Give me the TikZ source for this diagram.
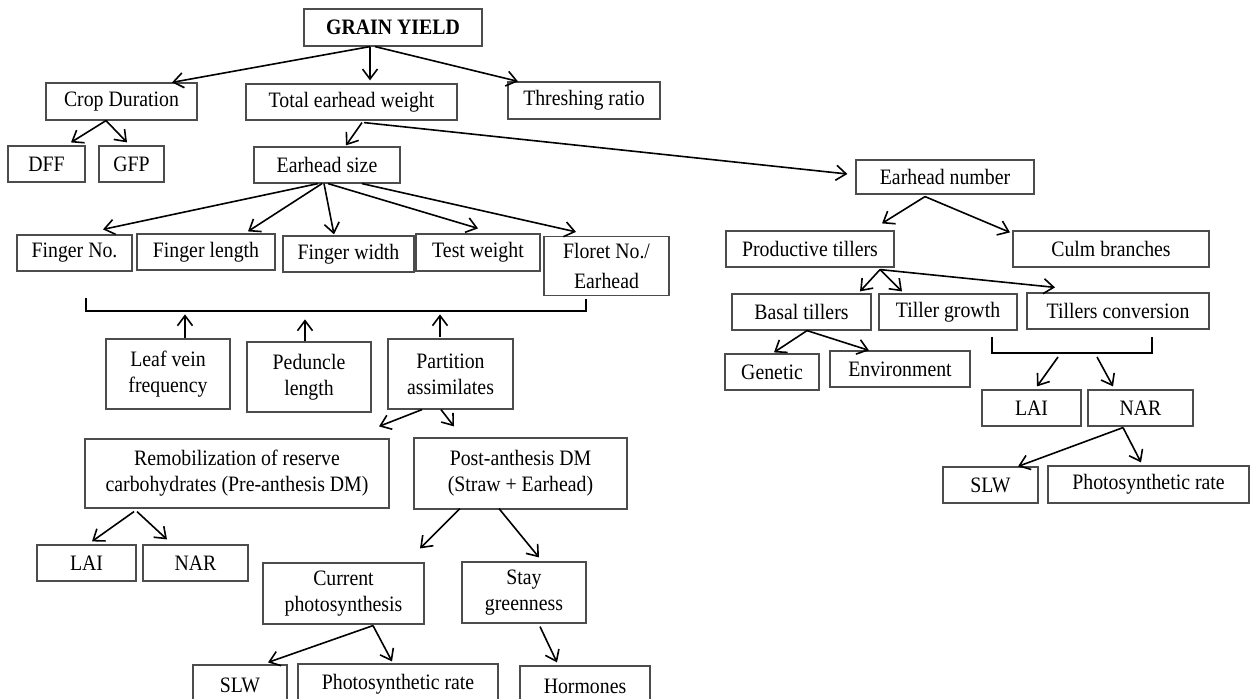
\documentclass[tikz,border=0pt]{standalone}
\usepackage{fontspec}
\setmainfont{Liberation Serif}[FakeStretch=0.9]
\usepackage{tikz}
\usetikzlibrary{arrows.meta,calc}
\tikzset{sz/.style 2 args={minimum width=#1*0.5pt,minimum height=#2*0.5pt}}

\begin{document}
\begin{tikzpicture}[->,>={Straight Barb[length=5pt,width=7.5pt]},x=0.5pt,y=-0.5pt,
                    line width=0.8pt]
  \tikzstyle{blk}=[rectangle,draw=black!70,line width=0.6pt,inner sep=0pt,
                   align=center,font=\fontsize{11}{13}\selectfont]

  \useasboundingbox (0,0) rectangle (1251,699);

  % left tree
  \node[blk,sz={178}{37}] (gy)   at (393,27.5)  {\textbf{GRAIN YIELD}};
  \node[blk,sz={151}{37}] (cd)   at (121.5,101.5) {Crop Duration};
  \node[blk,sz={211}{36}] (tew)  at (351.5,102) {Total earhead weight};
  \node[blk,sz={152}{37}] (thr)  at (584,100.5) {Threshing ratio};
  \node[blk,sz={77}{36}]  (dff)  at (46.5,164)  {DFF};
  \node[blk,sz={65}{36}]  (gfp)  at (131.5,164) {GFP};
  \node[blk,sz={146}{36}] (es)   at (327,165)   {Earhead size};
  \node[blk,sz={115}{36}] (fno)  at (74.5,253)  {Finger No.};
  \node[blk,sz={138}{36}] (fl)   at (206,252)   {Finger length};
  \node[blk,sz={131}{36}] (fw)   at (348.5,254) {Finger width};
  \node[blk,sz={124}{37}] (tw)   at (478,252.5) {Test weight};
  \node[blk,sz={125}{59}] (fe)   at (606.5,266) {Floret No./\\[2pt]Earhead};
  \node[blk,sz={124}{70}] (lv)   at (168,374)   {Leaf vein\\frequency};
  \node[blk,sz={124}{70}] (pl)   at (309,377)   {Peduncle\\length};
  \node[blk,sz={125}{70}] (pa)   at (450.5,374) {Partition\\assimilates};
  \node[blk,sz={304}{69}] (rm)   at (237,473.5) {Remobilization of reserve\\carbohydrates (Pre-anthesis DM)};
  \node[blk,sz={213}{71}] (pad)  at (520.5,473.5) {Post-anthesis DM\\(Straw + Earhead)};
  \node[blk,sz={99}{36}]  (lai1) at (86.5,563)  {LAI};
  \node[blk,sz={105}{36}] (nar1) at (195.5,563) {NAR};
  \node[blk,sz={161}{61}] (cp)   at (343.5,593.5) {Current\\photosynthesis};
  \node[blk,sz={124}{61}] (sg)   at (524,592.5) {Stay\\greenness};
  \node[blk,sz={94}{40}]  (slw1) at (240,685)   {SLW};
  \node[blk,sz={200}{40}] (psr1) at (398,684)   {Photosynthetic rate};
  \node[blk,sz={130}{40}] (hor)  at (585,686)   {Hormones};

  % right tree
  \node[blk,sz={178}{34}] (en)   at (945,177)   {Earhead number};
  \node[blk,sz={168}{36}] (pt)   at (810,249)   {Productive tillers};
  \node[blk,sz={196}{36}] (cb)   at (1111,249)  {Culm branches};
  \node[blk,sz={139}{36}] (bt)   at (801.5,312) {Basal tillers};
  \node[blk,sz={138}{36}] (tg)   at (948,312)   {Tiller growth};
  \node[blk,sz={182}{36}] (tc)   at (1118,311)  {Tillers conversion};
  \node[blk,sz={94}{36}]  (gen)  at (772,372)   {Genetic};
  \node[blk,sz={140}{36}] (env)  at (900,369)   {Environment};
  \node[blk,sz={99}{36}]  (lai2) at (1031.5,408) {LAI};
  \node[blk,sz={105}{36}] (nar2) at (1140.5,408) {NAR};
  \node[blk,sz={95}{36}]  (slw2) at (990.5,485) {SLW};
  \node[blk,sz={201}{37}] (psr2) at (1148.5,484.5) {Photosynthetic rate};

  % brackets
  \coordinate (b1a) at (86,298);
  \coordinate (b1b) at (86,311);
  \coordinate (b1c) at (586,311);
  \coordinate (b1d) at (586,299);
  \coordinate (b2a) at (992,337);
  \coordinate (b2b) at (992,353);
  \coordinate (b2c) at (1152,353);
  \coordinate (b2d) at (1152,337);
  \coordinate (b2l) at (1058,357);
  \coordinate (b2r) at (1097,357);
  \draw[-] (b1a) -- (b1b) -- (b1c) -- (b1d);
  \draw[-] (b2a) -- (b2b) -- (b2c) -- (b2d);

  \path ($(gy.south)+(-23,0)$) edge ($(cd.north)+(50.5,0)$)
        ($(gy.south)+(-23,0)$) edge ($(tew.north)+(18.5,-3)$)
        ($(gy.south)+(-18,0)$) edge ($(thr.north)+(-66,0)$)
        ($(cd.south)+(-15.5,0)$) edge ($(dff.north)+(24.5,-3)$)
        ($(cd.south)+(-15.5,0)$) edge ($(gfp.north)+(-4.5,-3)$)
        ($(tew.south)+(10.5,2)$) edge ($(es.north)+(19,-1)$)
        ($(tew.south)+(12.5,2)$) edge ($(en.west)+(-8,-3)$)
        ($(es.south)+(-9,0)$) edge ($(fno.north)+(28.5,-5)$)
        ($(es.south)+(-5,0)$) edge ($(fl.north)+(42,-2)$)
        ($(es.south)+(-3,0)$) edge ($(fw.north)+(-14.5,-1)$)
        ($(es.south)+(1,0)$) edge ($(tw.north)+(0,-5)$)
        ($(es.south)+(35,0)$) edge ($(fe.north)+(-30.5,-4)$)
        ($(lv.north)+(17,0)$) edge ($(lv.north)+(17,-24)$)
        ($(pl.north)+(-4,0)$) edge ($(pl.north)+(-4,-22)$)
        ($(pa.north)+(-10.5,-1)$) edge ($(pa.north)+(-10.5,-24)$)
        ($(pa.south)+(-28.5,0)$) edge ($(rm.north)+(142,-12)$)
        ($(pa.south)+(-9.5,0)$) edge ($(pad.north)+(-66.5,-11)$)
        ($(rm.south)+(-103,3)$) edge ($(lai1.north)+(5.5,-3)$)
        ($(rm.south)+(-100,3)$) edge ($(nar1.north)+(-28.5,-5)$)
        ($(pad.south)+(-60.5,-1)$) edge ($(cp.north)+(76.5,-14)$)
        ($(pad.south)+(-21.5,-1)$) edge ($(sg.north)+(15,-4)$)
        ($(cp.south)+(29.5,1)$) edge ($(slw1.north)+(28,-2)$)
        ($(cp.south)+(29.5,1)$) edge ($(psr1.north)+(-6,-2)$)
        ($(sg.south)+(16,3)$) edge ($(hor.north)+(-28,-3)$);

  \path ($(en.south)+(-20,2)$) edge ($(pt.north)+(72,-7)$)
        ($(en.south)+(-20,2)$) edge ($(cb.north)+(-101,2)$)
        ($(pt.south)+(70,2)$) edge ($(bt.north)+(58.5,-2)$)
        ($(pt.south)+(70,2)$) edge ($(tg.north)+(-46,-2)$)
        ($(pt.south)+(70,2)$) edge ($(tc.north)+(-63,-5)$)
        ($(bt.south)+(5.5,0)$) edge ($(gen.north)+(2,-1)$)
        ($(bt.south)+(5.5,0)$) edge ($(env.north)+(-31,0)$)
        (b2l) edge ($(lai2.north)+(5.5,-3)$)
        (b2r) edge ($(nar2.north)+(-27.5,-3)$)
        ($(nar2.south)+(-17.5,1)$) edge ($(slw2.north)+(27.5,0)$)
        ($(nar2.south)+(-17.5,1)$) edge ($(psr2.north)+(-7.5,-3)$);
\end{tikzpicture}
\end{document}
